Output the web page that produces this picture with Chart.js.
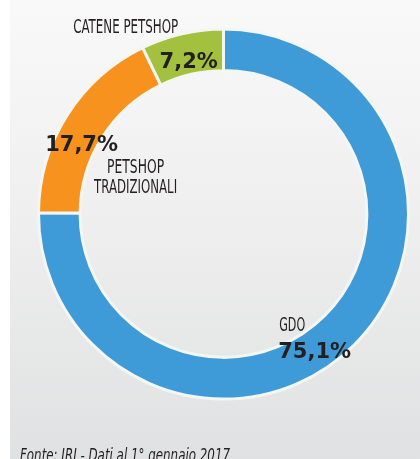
<!DOCTYPE html>
<html lang="it">
<head>
<meta charset="utf-8">
<title>Canali di vendita pet food</title>
<script src="https://cdn.jsdelivr.net/npm/chart.js@4/dist/chart.umd.min.js"></script>
<style>
  html, body { margin: 0; padding: 0; background: #fff; }
  #wrap {
    position: relative;
    width: 420px;
    height: 459px;
    overflow: hidden;
  }
  #panel {
    position: absolute;
    left: 10px; top: 0; right: 0; bottom: 0;
    background: linear-gradient(to bottom, #f9f9f9 0%, #eeeeee 50%, #e0e1e2 100%);
  }
  #chart { position: absolute; left: 0; top: 0; }
</style>
</head>
<body>
<div id="wrap">
  <div id="panel"></div>
  <canvas id="chart" width="420" height="459"></canvas>
</div>
<script>
// quote di mercato per canale (%)
const channels = ["GDO", "PETSHOP TRADIZIONALI", "CATENE PETSHOP"];
const shares = [75.1, 17.7, 7.2];
const shareLabels = ["75,1%", "17,7%", "7,2%"];
const colors = ["#3f9bd8", "#f7921e", "#a3c03e"];
const source = "Fonte: IRI - Dati al 1° gennaio 2017";

// where each channel's name and value sit, relative to the middle of its slice
const labelLayout = [
  { value: [-61, 28, "left"], name: [[-60, 1, "left"]], lines: [["GDO"]] },
  { value: [-3, 25, "center"], name: [[51, 47, "center"], [51, 67, "center"]], lines: [["PETSHOP", "TRADIZIONALI"]] },
  { value: [2, 14, "center"], name: [[-61, -21, "center"]], lines: [["CATENE PETSHOP"]] }
];
const nameWidths = { "GDO": 26, "PETSHOP": 57, "TRADIZIONALI": 83, "CATENE PETSHOP": 105 };

const sliceLabels = {
  id: "sliceLabels",
  afterDraw(chart) {
    const ctx = chart.ctx;
    const arcs = chart.getDatasetMeta(0).data;
    ctx.save();
    ctx.fillStyle = "#231f20";
    ctx.textBaseline = "alphabetic";
    arcs.forEach((arc, i) => {
      const p = arc.tooltipPosition();
      const lay = labelLayout[i];
      ctx.font = "bold 21px 'DejaVu Sans'";
      ctx.textAlign = lay.value[2];
      ctx.fillText(shareLabels[i], p.x + lay.value[0], p.y + lay.value[1]);
      ctx.font = "20px 'Liberation Sans Narrow', 'DejaVu Sans Condensed', sans-serif";
      lay.lines[0].forEach((line, j) => {
        const [dx, dy, align] = lay.name[j];
        ctx.textAlign = align;
        ctx.fillText(line, p.x + dx, p.y + dy, nameWidths[line]);
      });
    });
    ctx.font = "italic 18px 'Liberation Sans Narrow', 'DejaVu Sans Condensed', sans-serif";
    ctx.textAlign = "left";
    ctx.fillText(source, 20, 461, 210);
    ctx.restore();
  }
};

new Chart(document.getElementById("chart"), {
  type: "doughnut",
  data: {
    labels: channels,
    datasets: [{
      data: shares,
      backgroundColor: colors,
      borderColor: "#f4f6f1",
      borderWidth: 3
    }]
  },
  options: {
    responsive: false,
    animation: false,
    events: [],
    cutout: "77.5%",
    rotation: 0,
    layout: { padding: { left: 37, right: 10, top: 27, bottom: 58 } },
    plugins: {
      legend: { display: false },
      tooltip: { enabled: false }
    }
  },
  plugins: [sliceLabels]
});
</script>
</body>
</html>
